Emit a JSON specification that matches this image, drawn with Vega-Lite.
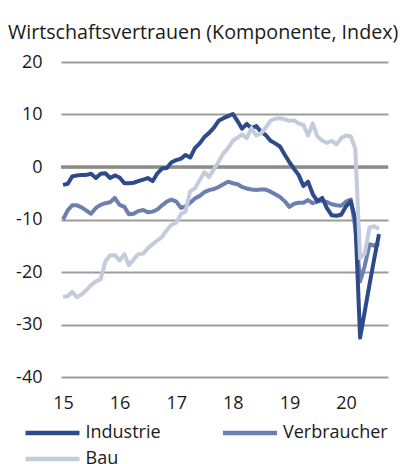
{
  "$schema": "https://vega.github.io/schema/vega-lite/v6.json",
  "width": 327,
  "height": 315,
  "autosize": {"type": "none"},
  "padding": {"left": 61, "top": 62, "right": 17, "bottom": 87},
  "background": "white",
  "title": {
    "text": "Wirtschaftsvertrauen (Komponente, Index)",
    "anchor": "start",
    "frame": "group",
    "dx": -53,
    "offset": 10,
    "font": "Open Sans",
    "fontSize": 19.7,
    "fontWeight": "normal",
    "color": "#1a1a1a"
  },
  "config": {
    "view": {"stroke": null},
    "font": "Open Sans"
  },
  "data": {
    "values": [
      {"d":"2015-01-01","Industrie":-3.4,"Verbraucher":-10.0,"Bau":-24.7},
      {"d":"2015-02-01","Industrie":-3.2,"Verbraucher":-8.2,"Bau":-24.6},
      {"d":"2015-03-01","Industrie":-1.8,"Verbraucher":-7.3,"Bau":-23.8},
      {"d":"2015-04-01","Industrie":-1.6,"Verbraucher":-7.3,"Bau":-24.8},
      {"d":"2015-05-01","Industrie":-1.5,"Verbraucher":-7.7,"Bau":-24.3},
      {"d":"2015-06-01","Industrie":-1.5,"Verbraucher":-8.3,"Bau":-23.4},
      {"d":"2015-07-01","Industrie":-1.3,"Verbraucher":-8.9,"Bau":-22.5},
      {"d":"2015-08-01","Industrie":-2.1,"Verbraucher":-7.8,"Bau":-21.8},
      {"d":"2015-09-01","Industrie":-1.3,"Verbraucher":-7.2,"Bau":-21.4},
      {"d":"2015-10-01","Industrie":-1.2,"Verbraucher":-6.9,"Bau":-18.0},
      {"d":"2015-11-01","Industrie":-2.1,"Verbraucher":-6.7,"Bau":-16.8},
      {"d":"2015-12-01","Industrie":-1.6,"Verbraucher":-5.9,"Bau":-16.8},
      {"d":"2016-01-01","Industrie":-2.0,"Verbraucher":-7.2,"Bau":-17.8},
      {"d":"2016-02-01","Industrie":-3.1,"Verbraucher":-7.6,"Bau":-16.6},
      {"d":"2016-03-01","Industrie":-3.1,"Verbraucher":-9.0,"Bau":-18.7},
      {"d":"2016-04-01","Industrie":-3.0,"Verbraucher":-8.9,"Bau":-17.6},
      {"d":"2016-05-01","Industrie":-2.7,"Verbraucher":-8.4,"Bau":-16.6},
      {"d":"2016-06-01","Industrie":-2.4,"Verbraucher":-8.2,"Bau":-16.5},
      {"d":"2016-07-01","Industrie":-2.1,"Verbraucher":-8.6,"Bau":-15.5},
      {"d":"2016-08-01","Industrie":-2.7,"Verbraucher":-8.5,"Bau":-14.7},
      {"d":"2016-09-01","Industrie":-1.2,"Verbraucher":-8.1,"Bau":-14.0},
      {"d":"2016-10-01","Industrie":-0.3,"Verbraucher":-7.3,"Bau":-13.3},
      {"d":"2016-11-01","Industrie":-0.2,"Verbraucher":-6.6,"Bau":-12.0},
      {"d":"2016-12-01","Industrie":0.9,"Verbraucher":-6.2,"Bau":-11.0},
      {"d":"2017-01-01","Industrie":1.3,"Verbraucher":-6.6,"Bau":-10.6},
      {"d":"2017-02-01","Industrie":1.6,"Verbraucher":-7.8,"Bau":-8.9},
      {"d":"2017-03-01","Industrie":2.3,"Verbraucher":-7.5,"Bau":-8.5},
      {"d":"2017-04-01","Industrie":1.8,"Verbraucher":-6.8,"Bau":-4.6},
      {"d":"2017-05-01","Industrie":3.6,"Verbraucher":-6.0,"Bau":-4.1},
      {"d":"2017-06-01","Industrie":4.5,"Verbraucher":-5.5,"Bau":-2.5},
      {"d":"2017-07-01","Industrie":5.7,"Verbraucher":-4.8,"Bau":-1.0},
      {"d":"2017-08-01","Industrie":6.5,"Verbraucher":-4.4,"Bau":-1.9},
      {"d":"2017-09-01","Industrie":7.5,"Verbraucher":-4.2,"Bau":-0.4},
      {"d":"2017-10-01","Industrie":8.8,"Verbraucher":-3.8,"Bau":1.0},
      {"d":"2017-11-01","Industrie":9.3,"Verbraucher":-3.3,"Bau":2.6},
      {"d":"2017-12-01","Industrie":9.7,"Verbraucher":-2.8,"Bau":3.6},
      {"d":"2018-01-01","Industrie":10.1,"Verbraucher":-3.1,"Bau":5.0},
      {"d":"2018-02-01","Industrie":8.7,"Verbraucher":-3.3,"Bau":5.6},
      {"d":"2018-03-01","Industrie":7.3,"Verbraucher":-3.8,"Bau":6.2},
      {"d":"2018-04-01","Industrie":8.2,"Verbraucher":-4.1,"Bau":5.5},
      {"d":"2018-05-01","Industrie":7.4,"Verbraucher":-4.3,"Bau":7.4},
      {"d":"2018-06-01","Industrie":7.8,"Verbraucher":-4.4,"Bau":6.0},
      {"d":"2018-07-01","Industrie":6.7,"Verbraucher":-4.3,"Bau":6.4},
      {"d":"2018-08-01","Industrie":6.1,"Verbraucher":-4.3,"Bau":7.5},
      {"d":"2018-09-01","Industrie":5.0,"Verbraucher":-4.7,"Bau":8.8},
      {"d":"2018-10-01","Industrie":4.5,"Verbraucher":-5.2,"Bau":9.2},
      {"d":"2018-11-01","Industrie":3.9,"Verbraucher":-5.7,"Bau":9.3},
      {"d":"2018-12-01","Industrie":2.4,"Verbraucher":-6.5,"Bau":9.1},
      {"d":"2019-01-01","Industrie":0.9,"Verbraucher":-7.6,"Bau":8.8},
      {"d":"2019-02-01","Industrie":-0.4,"Verbraucher":-7.0,"Bau":8.9},
      {"d":"2019-03-01","Industrie":-1.5,"Verbraucher":-6.8,"Bau":8.3},
      {"d":"2019-04-01","Industrie":-3.6,"Verbraucher":-6.8,"Bau":8.0},
      {"d":"2019-05-01","Industrie":-2.8,"Verbraucher":-6.3,"Bau":6.0},
      {"d":"2019-06-01","Industrie":-5.2,"Verbraucher":-6.9,"Bau":8.3},
      {"d":"2019-07-01","Industrie":-6.5,"Verbraucher":-6.6,"Bau":5.8},
      {"d":"2019-08-01","Industrie":-5.9,"Verbraucher":-6.4,"Bau":5.0},
      {"d":"2019-09-01","Industrie":-7.9,"Verbraucher":-6.7,"Bau":4.6},
      {"d":"2019-10-01","Industrie":-9.2,"Verbraucher":-7.1,"Bau":5.0},
      {"d":"2019-11-01","Industrie":-9.3,"Verbraucher":-7.3,"Bau":4.3},
      {"d":"2019-12-01","Industrie":-9.1,"Verbraucher":-7.4,"Bau":5.5},
      {"d":"2020-01-01","Industrie":-7.5,"Verbraucher":-6.6,"Bau":6.0},
      {"d":"2020-02-01","Industrie":-6.5,"Verbraucher":-6.2,"Bau":5.8},
      {"d":"2020-03-01","Industrie":-10.0,"Verbraucher":-11.6,"Bau":3.5},
      {"d":"2020-04-01","Industrie":-32.5,"Verbraucher":-21.8,"Bau":-17.4},
      {"d":"2020-05-01","Industrie":-27.5,"Verbraucher":-18.8,"Bau":-16.5},
      {"d":"2020-06-01","Industrie":-22.3,"Verbraucher":-14.7,"Bau":-11.5},
      {"d":"2020-07-01","Industrie":-17.5,"Verbraucher":-15.0,"Bau":-11.3},
      {"d":"2020-08-01","Industrie":-12.8,"Verbraucher":-14.5,"Bau":-11.8}
    ]
  },
  "layer": [
    {
      "mark": {"type": "rule", "stroke": "#8c8c8c", "strokeWidth": 3.5},
      "data": {"values": [{"z": 0}]},
      "encoding": {"y": {"field": "z", "type": "quantitative"}}
    },
    {
      "transform": [{"fold": ["Verbraucher", "Industrie", "Bau"], "as": ["s", "v"]}],
      "mark": {"type": "line", "strokeWidth": 4, "strokeJoin": "round"},
      "encoding": {
        "x": {
          "field": "d",
          "type": "temporal",
          "scale": {
            "type": "utc",
            "domain": [
              {"year": 2014, "month": 12, "date": 19, "utc": true},
              {"year": 2020, "month": 9, "date": 28, "utc": true}
            ]
          },
          "axis": {
            "title": null,
            "labelExpr": "utcFormat(datum.value, '%y')",
            "values": [
              {"year": 2015, "month": 1, "date": 1, "utc": true},
              {"year": 2016, "month": 1, "date": 1, "utc": true},
              {"year": 2017, "month": 1, "date": 1, "utc": true},
              {"year": 2018, "month": 1, "date": 1, "utc": true},
              {"year": 2019, "month": 1, "date": 1, "utc": true},
              {"year": 2020, "month": 1, "date": 1, "utc": true}
            ],
            "grid": false,
            "domain": false,
            "ticks": false,
            "labelFont": "Open Sans",
            "labelFontSize": 18,
            "labelColor": "#1a1a1a",
            "labelPadding": 17,
            "labelFlush": false
          }
        },
        "y": {
          "field": "v",
          "type": "quantitative",
          "scale": {"domain": [-40, 20], "nice": false},
          "axis": {
            "title": null,
            "values": [-40, -30, -20, -10, 0, 10, 20],
            "labelExpr": "'' + datum.value",
            "grid": true,
            "gridColor": "#9c9c9c",
            "gridWidth": 2,
            "domain": false,
            "ticks": false,
            "labelFont": "Open Sans",
            "labelFontSize": 18,
            "labelColor": "#1a1a1a",
            "labelPadding": 19
          }
        },
        "color": {
          "field": "s",
          "type": "nominal",
          "scale": {
            "domain": ["Industrie", "Verbraucher", "Bau"],
            "range": ["#2d4a8a", "#6d7fb0", "#c3cbdd"]
          },
          "legend": {
            "title": null,
            "orient": "none",
            "legendX": -17.5,
            "legendY": 362,
            "direction": "horizontal",
            "columns": 2,
            "columnPadding": 52.5,
            "rowPadding": 8,
            "symbolType": "M-6,0H6",
            "symbolSize": 81,
            "symbolStrokeWidth": 4.5,
            "labelFont": "Open Sans",
            "labelFontSize": 18,
            "labelColor": "#1a1a1a",
            "labelOffset": 24
          }
        }
      }
    }
  ]
}
